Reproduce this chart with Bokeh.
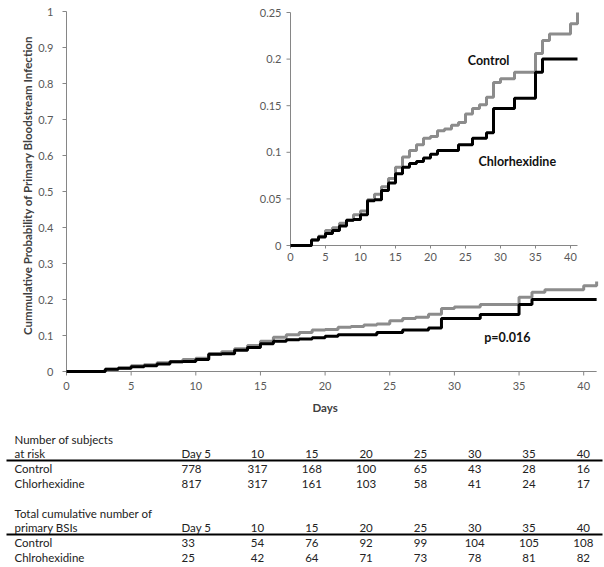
import math
from bokeh.plotting import figure
from bokeh.models import Range1d
from bokeh.layouts import column
from bokeh.core.properties import value
from bokeh.embed import file_html
from bokeh.resources import INLINE

# ---------------- data ----------------
ctrl_days = [0, 3, 4, 5, 6, 7, 8, 9, 10, 11, 12, 13, 14, 15, 16, 17, 18, 19, 20, 21,
             22, 23, 24, 25, 26, 27, 28, 29, 30, 32, 35, 36, 37, 40, 41]
ctrl_cum = [0, 0.006, 0.010, 0.016, 0.019, 0.024, 0.027, 0.033, 0.037, 0.049, 0.055,
            0.063, 0.072, 0.084, 0.095, 0.102, 0.108, 0.115, 0.117, 0.123, 0.125,
            0.129, 0.132, 0.141, 0.147, 0.151, 0.159, 0.175, 0.179, 0.186, 0.206,
            0.220, 0.227, 0.238, 0.250]
chx_days = [0, 3, 4, 5, 6, 7, 8, 9, 10, 11, 12, 13, 14, 15, 16, 17, 18, 19, 20, 21,
            24, 26, 28, 29, 32, 35, 36, 41]
chx_cum = [0, 0.006, 0.009, 0.013, 0.016, 0.021, 0.027, 0.028, 0.033, 0.048, 0.049,
           0.059, 0.067, 0.077, 0.084, 0.088, 0.090, 0.094, 0.098, 0.102, 0.108,
           0.115, 0.121, 0.147, 0.158, 0.186, 0.200, 0.200]

main_xticks = [0, 5, 10, 15, 20, 25, 30, 35, 40]
main_yticks = [0, 0.1, 0.2, 0.3, 0.4, 0.5, 0.6, 0.7, 0.8, 0.9, 1]
main_ylabels = ["0", "0.1", "0.2", "0.3", "0.4", "0.5", "0.6", "0.7", "0.8", "0.9", "1"]
inset_xticks = [0, 5, 10, 15, 20, 25, 30, 35, 40]
inset_yticks = [0, 0.05, 0.1, 0.15, 0.2, 0.25]
inset_ylabels = ["0", "0.05", "0.1", "0.15", "0.2", "0.25"]
x_max = 41
y_title = "Cummulative Probability of Primary Bloodstream Infection"
x_title = "Days"

table_days = ["Day 5", "10", "15", "20", "25", "30", "35", "40"]
table_day_nums = [5, 10, 15, 20, 25, 30, 35, 40]
risk_control = [778, 317, 168, 100, 65, 43, 28, 16]
risk_chx = [817, 317, 161, 103, 58, 41, 24, 17]
bsi_control = [33, 54, 76, 92, 99, 104, 105, 108]
bsi_chx = [25, 42, 64, 71, 73, 78, 81, 82]

# ---------------- layout constants (pixels) ----------------
FONT = value("Lato")
W = 604
TOP_H = 415
TAB_H = 152

# main plot: origin at (66, 371) in canvas pixels
MX0, MXS = 66.0, 12.93
MY0, MYS = TOP_H - 371.0, 360.0
# inset: origin at (290, 245)
IX0, IXS = 290.0, 7.0
IY0, IYS = TOP_H - 245.0, 932.0

AXIS_COL = "#868686"
TICK_COL = "#595959"
GRAY = "#8c8c8c"

p = figure(width=W, height=TOP_H, output_backend="svg", toolbar_location=None,
           x_range=Range1d(-MX0 / MXS, (W - MX0) / MXS),
           y_range=Range1d(-MY0 / MYS, (TOP_H - MY0) / MYS),
           x_axis_location=None, y_axis_location=None, min_border=0)
p.outline_line_color = None
p.grid.visible = False
p.extra_x_ranges = {"ix": Range1d(-IX0 / IXS, (W - IX0) / IXS)}
p.extra_y_ranges = {"iy": Range1d(-IY0 / IYS, (TOP_H - IY0) / IYS)}


def draw_axes(xticks, xlabels, yticks, ylabels, xmax, ymax, xs, ys,
              xtick_len, ytick_len, xlab_off, ylab_off, **kw):
    p.segment(x0=[0, 0], y0=[0, 0], x1=[xmax, 0], y1=[0, ymax],
              line_color=AXIS_COL, line_width=1, **kw)
    p.segment(x0=xticks, y0=[0] * len(xticks), x1=xticks,
              y1=[-xtick_len / ys] * len(xticks), line_color=AXIS_COL, line_width=1, **kw)
    p.segment(x0=[0] * len(yticks), y0=yticks, x1=[-ytick_len / xs] * len(yticks),
              y1=yticks, line_color=AXIS_COL, line_width=1, **kw)
    p.text(x=xticks, y=[0] * len(xticks), text=xlabels, y_offset=xlab_off,
           text_align="center", text_baseline="top", text_font=FONT,
           text_font_size="11px", text_color=TICK_COL, **kw)
    p.text(x=[0] * len(yticks), y=yticks, text=ylabels, x_offset=-ylab_off,
           text_align="right", text_baseline="middle", text_font=FONT,
           text_font_size="11px", text_color=TICK_COL, **kw)


# ---- main chart ----
draw_axes(main_xticks, [str(t) for t in main_xticks], main_yticks, main_ylabels,
          x_max, main_yticks[-1], MXS, MYS, 4, 4, 10, 13)
p.text(x=[20], y=[0], text=[x_title], y_offset=36, text_align="center",
       text_baseline="middle", text_font=FONT, text_font_size="11.5px",
       text_font_style="bold", text_color="#404040")
p.text(x=[0], y=[0.517], text=[y_title], x_offset=-39, angle=math.pi / 2,
       text_align="center", text_baseline="middle", text_font=FONT,
       text_font_size="11.5px", text_font_style="bold", text_color="#404040")
p.step(ctrl_days, ctrl_cum, mode="after", line_color=GRAY, line_width=3)
p.step(chx_days, chx_cum, mode="after", line_color="black", line_width=3)
p.text(x=[34.1], y=[0.094], text=["p=0.016"], text_font=FONT, text_font_size="12.5px",
       text_font_style="bold", text_align="center", text_baseline="middle",
       text_color="#111111")

# ---- inset ----
kw = dict(x_range_name="ix", y_range_name="iy")
draw_axes(inset_xticks, [str(t) for t in inset_xticks], inset_yticks, inset_ylabels,
          x_max, inset_yticks[-1], IXS, IYS, 3, 4, 7, 9, **kw)
p.step(ctrl_days, ctrl_cum, mode="after", line_color=GRAY, line_width=3, **kw)
p.step(chx_days, chx_cum, mode="after", line_color="black", line_width=3, **kw)
p.text(x=[28.3, 32.4], y=[0.199, 0.090], text=["Control", "Chlorhexidine"],
       text_font=FONT, text_font_size="12.5px", text_font_style="bold",
       text_align="center", text_baseline="middle", text_color="#111111", **kw)

# ---------------- table (data coords = page pixels) ----------------
t = figure(width=W, height=TAB_H, output_backend="svg", toolbar_location=None,
           x_range=Range1d(0, W), y_range=Range1d(TOP_H + TAB_H, TOP_H),
           x_axis_location=None, y_axis_location=None, min_border=0)
t.outline_line_color = None
t.grid.visible = False

LBL_X = 14
COL1_X = 181
COL_C0 = 257
COL_STEP = 10.86


def col_x(d):
    return COL_C0 + (d - 10) * COL_STEP


TXT = dict(text_font=FONT, text_font_size="11.5px", text_color="#222222",
           text_baseline="middle")


def block(y0, head1, head2, lab1, lab2, vals1, vals2):
    ys = [y0, y0 + 14, y0 + 29, y0 + 44]
    t.text(x=[LBL_X] * 4, y=ys, text=[head1, head2, lab1, lab2],
           text_align="left", **TXT)
    rows = [(ys[1], table_days), (ys[2], [str(v) for v in vals1]),
            (ys[3], [str(v) for v in vals2])]
    for yy, texts in rows:
        t.text(x=[COL1_X], y=[yy], text=[texts[0]], text_align="left", **TXT)
        t.text(x=[col_x(d) for d in table_day_nums[1:]], y=[yy] * (len(texts) - 1),
               text=texts[1:], text_align="center", **TXT)
    t.segment(x0=[6], y0=[y0 + 21], x1=[W - 2], y1=[y0 + 21],
              line_color="black", line_width=2)


block(439, "Number of  subjects", "at risk", "Control", "Chlorhexidine",
      risk_control, risk_chx)
block(513, "Total cumulative  number of", "primary BSIs", "Control", "Chlrohexidine",
      bsi_control, bsi_chx)

layout = column(p, t)
open("out.html", "w").write(file_html(layout, INLINE))
